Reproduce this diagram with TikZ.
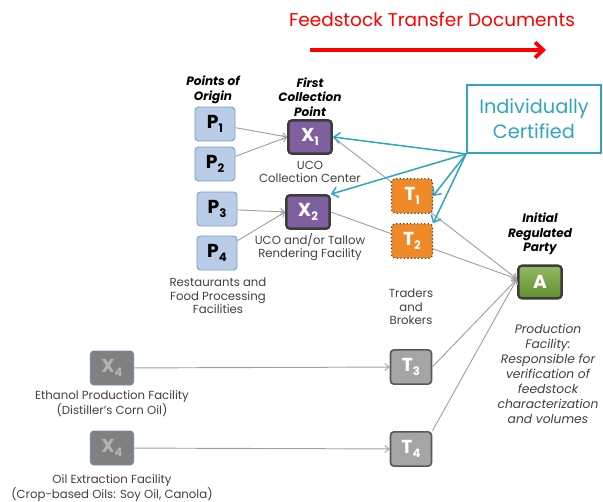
\documentclass[tikz,border=0pt]{standalone}
\usepackage{fontspec}
\setmainfont{Poppins}
\usetikzlibrary{arrows.meta}
\definecolor{pfill}{HTML}{B9CDE8}
\definecolor{pborder}{HTML}{7BA0CD}
\definecolor{xfill}{HTML}{7F5FA0}
\definecolor{dkborder}{HTML}{3C3C3C}
\definecolor{tfill}{HTML}{F08A28}
\definecolor{gfill}{HTML}{A5A5A5}
\definecolor{gborder}{HTML}{595959}
\definecolor{xfourfill}{HTML}{808080}
\definecolor{xfourborder}{HTML}{6C8EBF}
\definecolor{xfourtext}{HTML}{B4B4B4}
\definecolor{afill}{HTML}{76A83A}
\definecolor{teal}{HTML}{31A5C0}
\definecolor{conncol}{HTML}{A0A0A0}
\definecolor{bodytext}{HTML}{404040}
\newcommand{\blbl}[2]{#1\raisebox{-0.35ex}{\fontsize{10}{10}\selectfont #2}}
\begin{document}
\begin{tikzpicture}[x=0.03cm,y=-0.03cm,
  box/.style={rounded corners=3pt, inner sep=0pt, font=\fontsize{16}{16}\selectfont\bfseries},
  pbox/.style={box, draw=pborder, line width=0.8pt, fill=pfill, minimum width=1.2cm, minimum height=1.02cm, text=black},
  xbox/.style={box, draw=dkborder, line width=2pt, fill=xfill, minimum width=1.3cm, minimum height=1.0cm, text=white},
  tbox/.style={box, draw=dkborder, dotted, line width=1pt, fill=tfill, minimum width=1.23cm, minimum height=1.03cm, text=white},
  gbox/.style={box, draw=gborder, line width=1.4pt, fill=gfill, minimum width=1.23cm, minimum height=1.03cm, text=white},
  xfbox/.style={box, draw=xfourborder, line width=0.8pt, fill=xfourfill, minimum width=1.3cm, minimum height=1.02cm, text=xfourtext},
  abox/.style={box, draw=dkborder, line width=2pt, top color=afill!80!white, bottom color=afill!85!black, minimum width=1.3cm, minimum height=0.98cm, text=white},
  body/.style={align=center, text=bodytext, font=\fontsize{10}{11.6}\selectfont, inner sep=0pt},
  bodyit/.style={align=center, text=bodytext, font=\fontsize{10.5}{12.7}\selectfont\itshape, inner sep=0pt},
  head/.style={align=center, text=black, font=\fontsize{10.3}{12.3}\selectfont\bfseries\itshape, inner sep=0pt},
  conn/.style={draw=conncol, line width=0.8pt, -{Straight Barb[length=3.5pt,width=6pt]}},
  certarrow/.style={draw=teal, line width=1.3pt, -{Straight Barb[length=5pt,width=9pt]}}
]
\useasboundingbox (0,0) rectangle (603,502);

% title
\node[text=red, font=\fontsize{15.8}{18}\selectfont] (title) at (432,20) {Feedstock Transfer Documents};
\coordinate (rs) at (310,50);
\coordinate (re) at (546,50);
\draw[red, line width=3.2pt, -{Straight Barb[length=7pt,width=13pt]}] (rs) -- (re);

% headings
\node[head] (hpo) at (213,90) {Points of\\Origin};
\node[head] (hfc) at (310,97) {First\\Collection\\Point};
\node[head] (hirp) at (540,234) {Initial\\Regulated\\Party};

% P boxes
\node[pbox] (P1) at (215,124) {\blbl{P}{1}};
\node[pbox] (P2) at (215,164) {\blbl{P}{2}};
\node[pbox] (P3) at (217,209) {\blbl{P}{3}};
\node[pbox] (P4) at (217,253) {\blbl{P}{4}};

% X boxes
\node[xbox] (X1) at (310,137) {\blbl{X}{1}};
\node[xbox] (X2) at (308,212) {\blbl{X}{2}};

% A
\node[abox] (A) at (540,282) {A};
\coordinate (Ain) at (517,279);

% X4 boxes
\node[xfbox] (X4a) at (112,368) {\blbl{X}{4}};
\node[xfbox] (X4b) at (112,448) {\blbl{X}{4}};

% T3/T4
\node[gbox] (T3) at (411,367) {\blbl{T}{3}};
\node[gbox] (T4) at (411,449) {\blbl{T}{4}};

% body texts
\node[body] (uco1) at (310,172) {UCO\\Collection Center};
\node[body] (uco2) at (310,247) {UCO and/or Tallow\\Rendering Facility};
\node[body] (rest) at (218,296) {Restaurants and\\Food Processing\\Facilities};
\node[body] (trad) at (411,307) {Traders\\and\\Brokers};
\node[body] (eth) at (112,404) {Ethanol Production Facility\\(Distiller's Corn Oil)};
\node[body] (oil) at (112,488) {Oil Extraction Facility\\(Crop-based Oils: Soy Oil, Canola)};
\node[bodyit] (prod) at (548,374) {Production\\Facility:\\Responsible for\\verification of\\feedstock\\characterization\\and volumes};

% connectors
\draw[conn] (P1) -- (X1.west);
\draw[conn] (P2) -- (X1.west);
\draw[conn] (P3) -- (X2.west);
\draw[conn] (P4) -- (X2.west);
\draw[conn] (X1.east) -- (Ain);
\draw[conn] (X2.east) -- (Ain);
\draw[conn] (T3.east) -- (Ain);
\draw[conn] (T4.north east) -- (Ain);
\draw[conn] (X4a) -- (T3);
\draw[conn] (X4b) -- (T4);

% T1/T2 on top of lines
\node[tbox] (T1) at (412,196) {\blbl{T}{1}};
\node[tbox] (T2) at (412,241) {\blbl{T}{2}};

% Individually certified
\node[draw=teal, line width=1.6pt, text=teal, align=center, minimum width=4.02cm, minimum height=2.04cm, font=\fontsize{16.5}{21}\selectfont] (IC) at (534,119) {Individually\\Certified};
\coordinate (ICc) at (IC.south west);
\draw[certarrow] (ICc) -- (X1.east);
\draw[certarrow] (ICc) -- (X2.north east);
\draw[certarrow] (ICc) -- (T1.east);
\draw[certarrow] (ICc) -- (T2.north east);
\end{tikzpicture}
\end{document}
